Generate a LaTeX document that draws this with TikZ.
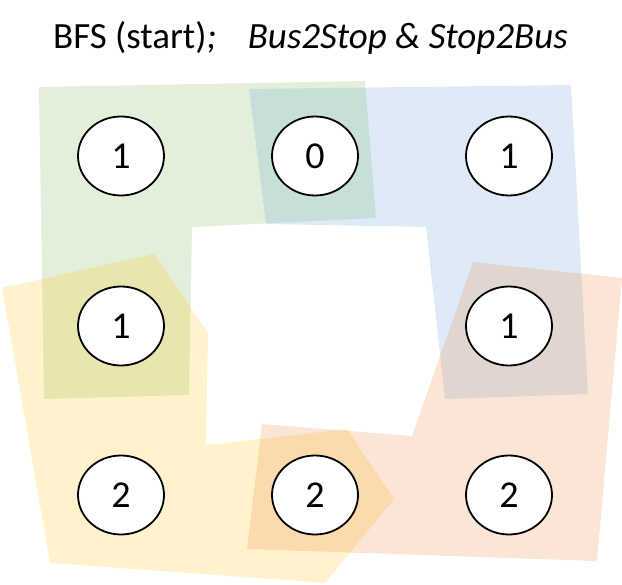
\documentclass[tikz,border=0pt]{standalone}
\usepackage{fontspec}
\setmainfont{Carlito}
\usetikzlibrary{shapes.geometric,backgrounds}
\definecolor{grn}{RGB}{112,173,71}
\definecolor{blu}{RGB}{91,155,213}
\definecolor{ylw}{RGB}{255,192,0}
\definecolor{org}{RGB}{237,125,49}

\begin{document}
\begin{tikzpicture}[x=1pt,y=-1pt,
cell/.style={ellipse, draw, line width=1.8pt, fill=white, minimum width=86pt, minimum height=79pt, inner sep=0pt, font=\fontsize{38}{42}\selectfont},
head/.style={inner sep=0pt, font=\fontsize{37}{44}\selectfont},
patch/.style={fill opacity=0.2}]
\useasboundingbox (0,0) rectangle (622,585);

\node[head, anchor=base west] at (53,49) (title) {BFS (start)\textit{;}};
\node[head, anchor=base east] at (568,49) (ops) {\textit{Bus2Stop \& Stop2Bus}};

\node[cell] at (121,156) (c-1-1) {1};
\node[cell] at (315,156) (c-1-2) {0};
\node[cell] at (509,156) (c-1-3) {1};
\node[cell] at (121,326) (c-2-1) {1};
\node[cell] at (509,326) (c-2-3) {1};
\node[cell] at (121,495) (c-3-1) {2};
\node[cell] at (315,495) (c-3-2) {2};
\node[cell] at (509,495) (c-3-3) {2};

\begin{scope}[on background layer]
\fill[patch, grn] (39,87) -- (365,81) -- (376,218) -- (192,227) -- (189,395) -- (44,399) -- cycle;
\fill[patch, blu] (249,89) -- (571,85) -- (588,394) -- (445,399) -- (426,227) -- (266,224) -- cycle;
\fill[patch, ylw] (2,288) -- (154,254) -- (208,333) -- (206,445) -- (347,429) -- (394,499) -- (325,583) -- (50,563) -- cycle;
\fill[patch, org] (473,262) -- (622,278) -- (597,561) -- (247,549) -- (262,424) -- (412,436) -- cycle;
\end{scope}
\end{tikzpicture}
\end{document}
